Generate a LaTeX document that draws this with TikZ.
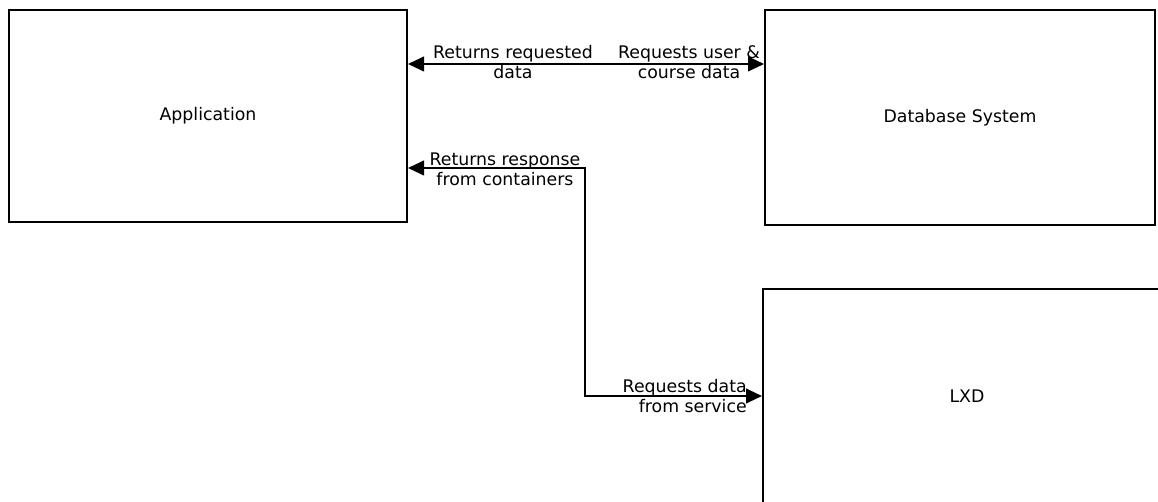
\documentclass[tikz,border=0pt]{standalone}
\usepackage{fontspec}
\setmainfont{DejaVu Sans}
\usetikzlibrary{arrows.meta}
\tikzset{
	block/.style={draw, line width=1.5pt, minimum width=#1, inner sep=0pt, font=\fontsize{13pt}{15pt}\selectfont},
	flow/.style={line width=1.5pt, {Triangle[length=12pt,width=11pt]}-{Triangle[length=12pt,width=11pt]}},
	note/.style={font=\fontsize{13pt}{15pt}\selectfont, inner sep=0pt}
}
\begin{document}
\begin{tikzpicture}[x=0.75pt,y=-0.75pt]

\def\BOXHEIGHT{160pt}
	\useasboundingbox (0,0) rectangle (1158,502);
	\clip (0,0) rectangle (1158,502);
	\node[block=298.5pt, minimum height=159pt] (app) at (208,116) {Application};
	\node[block=292.5pt, minimum height=161pt] (db) at (960,117.5) {Database System};
	\node[block=306pt, minimum height=\BOXHEIGHT] (lxd) at (967,396) {LXD};
	\coordinate (bend) at (585,0);

	\draw[flow] (app.east |- 0,64) -- (db.west |- 0,64);
	\draw[flow] (app.east |- 0,168) -- (bend |- 0,168) -- (bend |- lxd.west) -- (lxd.west);

	\node[note, align=center] (retdata) at (513,62) {Returns requested\\data};
	\node[note, align=center] (reqdata) at (689,62) {Requests user \&\\course data};
	\node[note, align=center] (retresp) at (505,169) {Returns response\\from containers};
	\node[note, align=right, anchor=east] (reqserv) at (747,396) {Requests data\\from service};

\end{tikzpicture}
\end{document}
